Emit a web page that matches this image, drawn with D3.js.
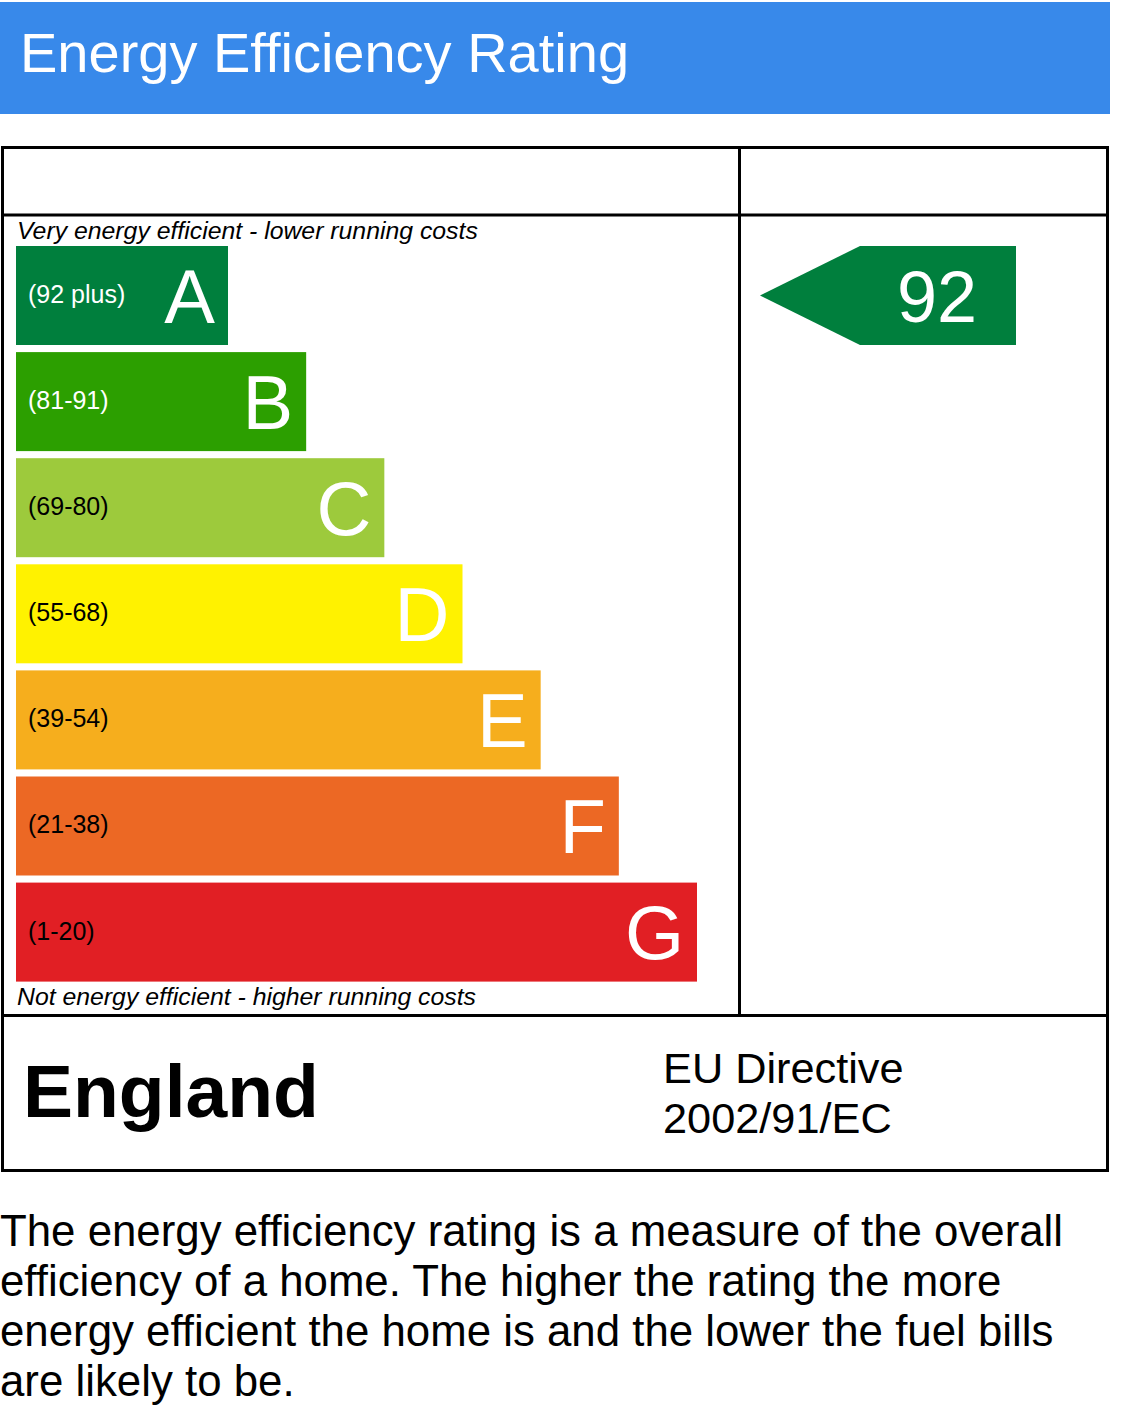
<!DOCTYPE html>
<html><head><meta charset="utf-8">
<script src="https://cdn.jsdelivr.net/npm/d3@7"></script>
<style>html,body{margin:0;padding:0;background:#fff;}svg{display:block;}</style>
</head><body>
<script>
const bandLetters = ["A","B","C","D","E","F","G"];
const bandRanges = ["(92 plus)","(81-91)","(69-80)","(55-68)","(39-54)","(21-38)","(1-20)"];
const bandMin = [92,81,69,55,39,21,1];
const bandColors = ["#007f3d","#2c9f00","#9dca3c","#fff200","#f6ae1d","#ec6824","#e11f24"];
const rangeTextColors = ["#fff","#fff","#000","#000","#000","#000","#000"];
const currentRating = 92;
const title = "Energy Efficiency Rating";
const topNote = "Very energy efficient - lower running costs";
const bottomNote = "Not energy efficient - higher running costs";
const country = "England";
const directive = ["EU Directive","2002/91/EC"];
const paragraph = ["The energy efficiency rating is a measure of the overall",
  "efficiency of a home. The higher the rating the more",
  "energy efficient the home is and the lower the fuel bills",
  "are likely to be."];

const W = 1126, H = 1422;
const font = "'Liberation Sans', Arial, sans-serif";
const svg = d3.select("body").append("svg").attr("width", W).attr("height", H);

// header
svg.append("rect").attr("x",0).attr("y",2).attr("width",1110).attr("height",112).attr("fill","#3889ea");
svg.append("text").attr("x",20).attr("y",72).attr("fill","#fff").attr("font-family",font)
  .attr("font-size",56).text(title);

// frame
const frame = svg.append("g").attr("fill","none").attr("stroke","#000").attr("stroke-width",3);
frame.append("rect").attr("x",2.5).attr("y",147.5).attr("width",1105).attr("height",1023);
frame.append("line").attr("x1",2).attr("x2",1108).attr("y1",215).attr("y2",215);
frame.append("line").attr("x1",2).attr("x2",1108).attr("y1",1015.5).attr("y2",1015.5);
frame.append("line").attr("x1",739.5).attr("x2",739.5).attr("y1",147).attr("y2",1015);

// scales
const y = d3.scaleBand().domain(bandLetters).range([246, 981.6]).paddingInner(0.0669).paddingOuter(0);
const idx = d3.scaleOrdinal().domain(bandLetters).range(d3.range(bandLetters.length));
const w = d3.scaleLinear().domain([0, bandLetters.length-1]).range([212, 681]);
const x0 = 16;

svg.append("text").attr("x",17).attr("y",239).attr("font-family",font).attr("font-style","italic")
  .attr("font-size",24.8).text(topNote);
svg.append("text").attr("x",17).attr("y",1005).attr("font-family",font).attr("font-style","italic")
  .attr("font-size",24.8).text(bottomNote);

const bands = svg.append("g").selectAll("g").data(bandLetters).join("g")
  .attr("transform", d => `translate(${x0},${y(d)})`);
bands.append("rect").attr("width", d => w(idx(d))).attr("height", y.bandwidth())
  .attr("fill", (d,i) => bandColors[i]);
bands.append("text").attr("x",12).attr("y", y.bandwidth()/2 + 7.5).attr("font-family",font)
  .attr("font-size",25).attr("fill",(d,i)=>rangeTextColors[i]).text((d,i)=>bandRanges[i]);
bands.append("text").attr("x", d => w(idx(d)) - 13).attr("y", y.bandwidth()/2 + 27)
  .attr("text-anchor","end").attr("font-family",font).attr("font-size",76).attr("fill","#fff").text(d=>d);

// current rating arrow
const ratingBand = bandLetters[bandMin.findIndex(m => currentRating >= m)];
const ri = bandLetters.indexOf(ratingBand);
const ay = y(ratingBand), ah = y.bandwidth();
const arrow = svg.append("g");
arrow.append("path").attr("d", `M760,${ay+ah/2} L860,${ay} L1016,${ay} L1016,${ay+ah} L860,${ay+ah} Z`)
  .attr("fill", bandColors[ri]);
arrow.append("text").attr("x",937).attr("y",ay+ah/2+26).attr("text-anchor","middle").attr("font-family",font)
  .attr("font-size",72).attr("fill","#fff").text(currentRating);

// bottom
svg.append("text").attr("x",23).attr("y",1117).attr("font-family",font).attr("font-weight","bold")
  .attr("font-size",75).text(country);
svg.append("g").selectAll("text").data(directive).join("text").attr("x",663).attr("y",(d,i)=>1083+i*50)
  .attr("font-family",font).attr("font-size",43.3).text(d=>d);

svg.append("g").selectAll("text").data(paragraph).join("text").attr("x",0).attr("y",(d,i)=>1246+i*50)
  .attr("font-family",font).attr("font-size",43.8).text(d=>d);
</script>
</body></html>
